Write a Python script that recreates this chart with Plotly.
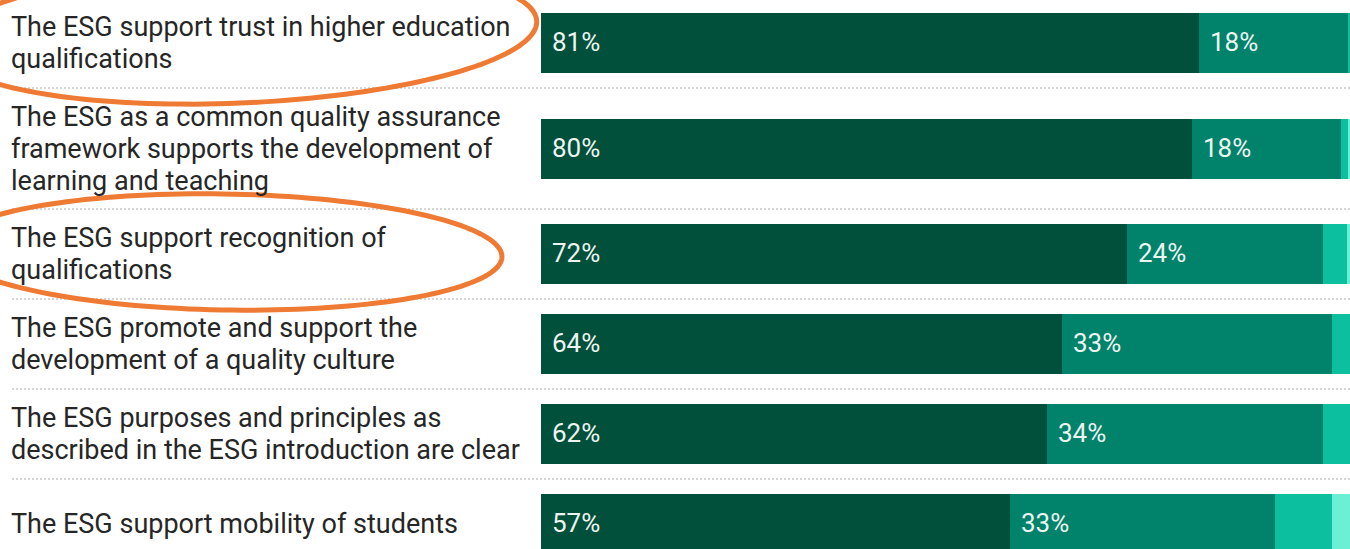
import numpy as np
import plotly.graph_objects as go

# ---- data ----
statements = [
    "The ESG support trust in higher education<br>qualifications",
    "The ESG as a common quality assurance<br>framework supports the development of<br>learning and teaching",
    "The ESG support recognition of<br>qualifications",
    "The ESG promote and support the<br>development of a quality culture",
    "The ESG purposes and principles as<br>described in the ESG introduction are clear",
    "The ESG support mobility of students",
]
series_names = ["Strongly agree", "Agree", "Disagree", "Strongly disagree"]
strongly_agree = [80.8, 80.0, 72.0, 64.0, 62.2, 57.6]
agree = [18.3, 18.3, 24.1, 33.2, 33.9, 32.6]
disagree = [0.9, 0.8, 2.9, 2.8, 3.9, 7.0]
strongly_disagree = [0.0, 0.9, 1.0, 0.0, 0.0, 2.8]
label_values = [[81, 80, 72, 64, 62, 57], [18, 18, 24, 33, 34, 33]]

colors = ["#00503b", "#00826b", "#0cbf9f", "#6cf0d5"]
series = [strongly_agree, agree, disagree, strongly_disagree]

W, H = 1350, 549
LEFT = 541
PX_PER_PCT = 8.14
OFFSET = 2  # first row starts slightly above the picture
LINE_GAP = 32

# row heights grow with the number of label lines
lines = [s.split("<br>") for s in statements]
heights = [90 + 31 * max(0, len(n) - 2) for n in lines]
tops = np.concatenate([[0], np.cumsum(heights)])
centers = [(tops[i] + tops[i + 1]) / 2 for i in range(len(heights))]

fig = go.Figure()
for name, vals, col in zip(series_names, series, colors):
    fig.add_trace(go.Bar(
        y=centers, x=vals, name=name, orientation="h",
        marker=dict(color=col, line=dict(width=0)),
        width=60, hoverinfo="skip",
    ))

annotations = []
for i, parts in enumerate(lines):
    n = len(parts)
    for k, txt in enumerate(parts):
        annotations.append(dict(
            x=12 / W, xref="paper", xshift=-3,
            y=centers[i] + (k - (n - 1) / 2) * LINE_GAP, yref="y",
            text=txt, showarrow=False, xanchor="left", yanchor="middle", align="left",
            font=dict(family="Roboto", size=27, color="#262626"),
        ))
# value labels for first two segments
for k in range(2):
    for i in range(len(statements)):
        start = sum(series[j][i] for j in range(k))
        annotations.append(dict(
            x=start, xref="x", y=centers[i], yref="y",
            text=f"{label_values[k][i]}%", showarrow=False,
            xanchor="left", yanchor="middle", xshift=9, yshift=1,
            font=dict(family="Roboto", size=26, color="#eef5f1"),
        ))

shapes = []
for b in tops[1:-1]:
    shapes.append(dict(
        type="line", xref="paper", yref="y", x0=12 / W, x1=1, y0=b, y1=b,
        line=dict(color="#c9c9c9", width=1.5, dash="2px,2px"), layer="below",
    ))


def ellipse_path(cx, cy, a, b, ang_deg):
    t = np.linspace(0, 2 * np.pi, 160)
    th = np.deg2rad(ang_deg)
    xs = cx + a * np.cos(t) * np.cos(th) + b * np.sin(t) * np.sin(th)
    ys = cy - a * np.cos(t) * np.sin(th) + b * np.sin(t) * np.cos(th)
    pts = [f"{x / W:.5f},{1 - y / H:.5f}" for x, y in zip(xs, ys)]
    return "M " + " L ".join(pts) + " Z"


for (cx, cy, a, b, ang) in [(240, 34, 297, 69, 2.5), (225, 252, 277, 58, -1)]:
    shapes.append(dict(
        type="path", xref="paper", yref="paper", path=ellipse_path(cx, cy, a, b, ang),
        line=dict(color="#ef7a33", width=5), fillcolor="rgba(0,0,0,0)", layer="above",
    ))

fig.update_layout(
    width=W, height=H, barmode="stack", showlegend=False,
    margin=dict(l=0, r=0, t=0, b=0),
    paper_bgcolor="white", plot_bgcolor="white",
    xaxis=dict(domain=[LEFT / W, 1], range=[0, (W - LEFT) / PX_PER_PCT],
               visible=False, fixedrange=True),
    yaxis=dict(domain=[0, 1], range=[H + OFFSET, OFFSET], visible=False, fixedrange=True),
    annotations=annotations, shapes=shapes,
)

fig.write_html("out.html", config={"displayModeBar": False},
               post_script="document.body.style.margin='0px';document.body.style.overflow='hidden';")
